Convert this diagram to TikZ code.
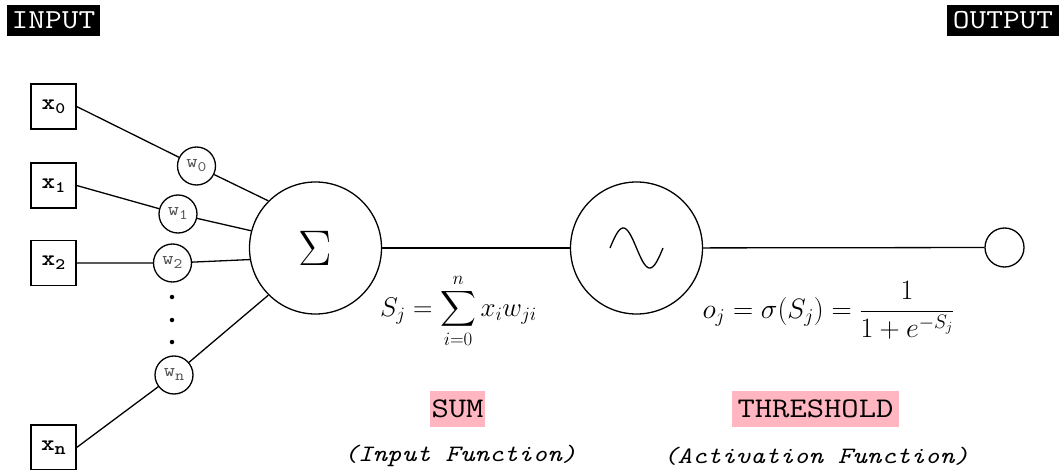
\RequirePackage{fix-cm}
\documentclass[tikz,border=0pt]{standalone}
\usepackage{graphicx}
\usepackage{exscale}
\usepackage{fontspec}
\definecolor{tagpink}{HTML}{FFB6C1}
\definecolor{wgray}{HTML}{505050}
\newcommand{\wide}[1]{\scalebox{1.18}[1]{#1}}
\newcommand{\lowsub}[3]{\raisebox{#2}{\fontsize{#1}{#1}\selectfont #3}}
\begin{document}
\begin{tikzpicture}[x=1pt,y=-1pt,line width=1.3pt,
  headbox/.style={fill=black,text=white,inner sep=0pt,font=\fontsize{27.5}{28}\selectfont\ttfamily},
  tagbox/.style={fill=tagpink,inner sep=0pt,minimum height=36pt,font=\fontsize{28.5}{28}\selectfont\ttfamily},
  subtitle/.style={font=\fontsize{23.5}{24}\selectfont\ttfamily\itshape},
  inbox/.style={draw,minimum size=45pt,inner sep=0pt,font=\fontsize{22}{22}\selectfont\ttfamily\bfseries},
  wcirc/.style={draw,circle,minimum size=38pt,inner sep=0pt,text=wgray,font=\fontsize{18.5}{18.5}\selectfont\ttfamily},
  bigcirc/.style={draw,circle,minimum size=132pt,inner sep=0pt},
  formula/.style={font=\fontsize{27}{30}\selectfont},
  dotmark/.style={fill=black,circle,inner sep=0pt,minimum size=4.5pt}]
\useasboundingbox (0,0) rectangle (1059,470);
\node[headbox,minimum width=93pt,minimum height=31pt] (inlbl) at (53.5,20.5) {\wide{INPUT}};
\node[headbox,minimum width=112pt,minimum height=31pt] (outlbl) at (1003,20.5) {\wide{OUTPUT}};

\node[inbox] (x0) at (53.5,106.5) {\wide{x\lowsub{16}{-4pt}{0}}};
\node[inbox] (x1) at (53.5,185.5) {\wide{x\lowsub{16}{-4pt}{1}}};
\node[inbox] (x2) at (53.5,263) {\wide{x\lowsub{16}{-4pt}{2}}};
\node[inbox] (xn) at (53.5,447.5) {\wide{x\lowsub{18}{-4pt}{n}}};

\node[wcirc] (w0) at (196.5,166) {\wide{w\lowsub{14.5}{-4pt}{0}}};
\node[wcirc] (w1) at (178,214) {\wide{w\lowsub{14.5}{-4pt}{1}}};
\node[wcirc] (w2) at (172.5,263) {\wide{w\lowsub{14.5}{-4pt}{2}}};
\node[wcirc] (wn) at (174,375) {\wide{w\lowsub{15}{-4pt}{n}}};

\node[dotmark] (d1) at (172,297) {};
\node[dotmark] (d2) at (172,320) {};
\node[dotmark] (d3) at (172,342) {};

\node[bigcirc] (sum) at (315.5,248) {\fontsize{50}{50}\selectfont$\Sigma$};
\node[bigcirc] (act) at (636.5,248) {};
\node[draw,circle,minimum size=39pt,inner sep=0pt] (out) at (1004.5,247.5) {};

\draw[domain=0:1,samples=60] plot ({610+53*\x},{248-20*sin(360*\x)});

\draw (x0.east) -- (w0) -- (sum.135);
\draw (x1.east) -- (w1) -- (sum.165);
\draw (x2.east) -- (w2) -- (sum.190);
\draw (xn.east) -- (wn) -- (sum.225);
\draw (sum) -- (act);
\draw (act) -- (out);

\node[formula] (sf) at (458.5,311) {$\displaystyle S_j=\sum_{i=0}^{n}x_iw_{ji}$};
\node[formula,font=\fontsize{28}{30}\selectfont] (af) at (828.5,310) {$\displaystyle o_j=\sigma(S_j)=\frac{1}{1+e^{-S_j}}$};

\node[tagbox,minimum width=55pt] (sumtag) at (457.5,409) {\wide{SUM}};
\node[tagbox,minimum width=167pt] (thrtag) at (815.5,409) {\wide{THRESHOLD}};
\node[subtitle] (sumsub) at (460,456) {\wide{(Input Function)}};
\node[subtitle] (thrsub) at (816,456) {\wide{(Activation Function)}};
\end{tikzpicture}
\end{document}
